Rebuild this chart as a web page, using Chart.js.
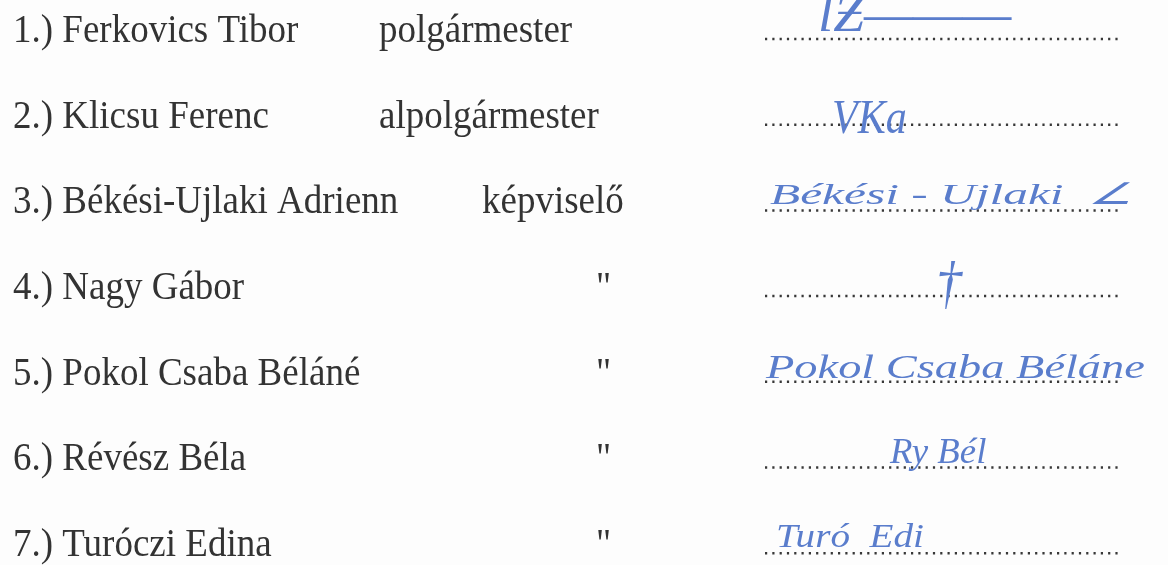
<!DOCTYPE html>
<html lang="hu">
<head>
<meta charset="utf-8">
<script src="https://cdn.jsdelivr.net/npm/chart.js@4.4.1/dist/chart.umd.min.js"></script>
<style>
html, body { margin: 0; padding: 0; background: #fdfdfd; }
#wrap { width: 1168px; height: 565px; }
</style>
</head>
<body>
<div id="wrap"><canvas id="myChart"></canvas></div>
<script>
// Névsor
var sorszam = ['1.)', '2.)', '3.)', '4.)', '5.)', '6.)', '7.)'];
var nevek = ['Ferkovics Tibor', 'Klicsu Ferenc', 'Békési-Ujlaki Adrienn', 'Nagy Gábor',
             'Pokol Csaba Béláné', 'Révész Béla', 'Turóczi Edina'];
var tisztseg = ['polgármester', 'alpolgármester', 'képviselő', '"', '"', '"', '"'];
var alairas = ['lƵ\u2014\u2014\u2014', 'VKa', 'Békési - Ujlaki  ∠', '†', 'Pokol Csaba Béláne', 'Ry Bél', 'Turó  Edi'];
var sorok = [0, 1, 2, 3, 4, 5, 6];

// elrendezés (pixel)
var tisztsegX = [379, 379, 482, 596, 596, 596, 596];
var alairasX = [818, 832, 770, 936, 766, 890, 776];
var alairasMeret = [46, 42, 26, 52, 29, 32, 29];
var alairasSzel = [1.2, 1, 1.9, 1, 1.6, 1.15, 1.35];
var alairasFel = [8, -8, 6, -6, 4, 4, 6];
var pontsor = { tol: 765, ig: 1122 };

var pontDatasets = sorok.map(function (k) {
  return {
    data: [{ x: pontsor.tol, y: k }, { x: pontsor.ig, y: k }],
    borderColor: '#383838',
    borderWidth: 2.5,
    borderDash: [2.2, 5.1],
    pointRadius: 0,
    fill: false
  };
});

function nyujtott(ctx, szoveg, x, y, kx, ky) {
  ctx.save();
  ctx.translate(x, y);
  ctx.scale(kx, ky);
  ctx.fillText(szoveg, 0, 0);
  ctx.restore();
}

var szovegPlugin = {
  id: 'szoveg',
  afterDatasetsDraw: function (chart) {
    var ctx = chart.ctx;
    var sx = chart.scales.x, sy = chart.scales.y;
    ctx.save();
    ctx.textBaseline = 'alphabetic';
    ctx.textAlign = 'left';
    sorok.forEach(function (k) {
      var y = sy.getPixelForValue(k) + 3;
      ctx.fillStyle = '#333333';
      ctx.font = '37px "Liberation Serif", "Times New Roman", serif';
      nyujtott(ctx, sorszam[k] + ' ' + nevek[k], sx.getPixelForValue(13), y, 1, 1.1);
      nyujtott(ctx, tisztseg[k], sx.getPixelForValue(tisztsegX[k]), y, 1, 1.1);
      // aláírás
      ctx.fillStyle = '#5a7dcc';
      ctx.font = 'italic ' + alairasMeret[k] + 'px "Liberation Serif", serif';
      nyujtott(ctx, alairas[k], sx.getPixelForValue(alairasX[k]), y - 3 - alairasFel[k], alairasSzel[k], 1.15);
    });
    ctx.restore();
  }
};

new Chart('myChart', {
  type: 'line',
  data: { datasets: pontDatasets },
  options: {
    responsive: true,
    maintainAspectRatio: false,
    animation: false,
    layout: { padding: 0 },
    plugins: { legend: { display: false }, tooltip: { enabled: false } },
    scales: {
      x: { type: 'linear', min: 0, max: 1168, display: false },
      y: { type: 'linear', min: -0.455, max: 6.138, reverse: true, display: false }
    }
  },
  plugins: [szovegPlugin]
});
</script>
</body>
</html>
